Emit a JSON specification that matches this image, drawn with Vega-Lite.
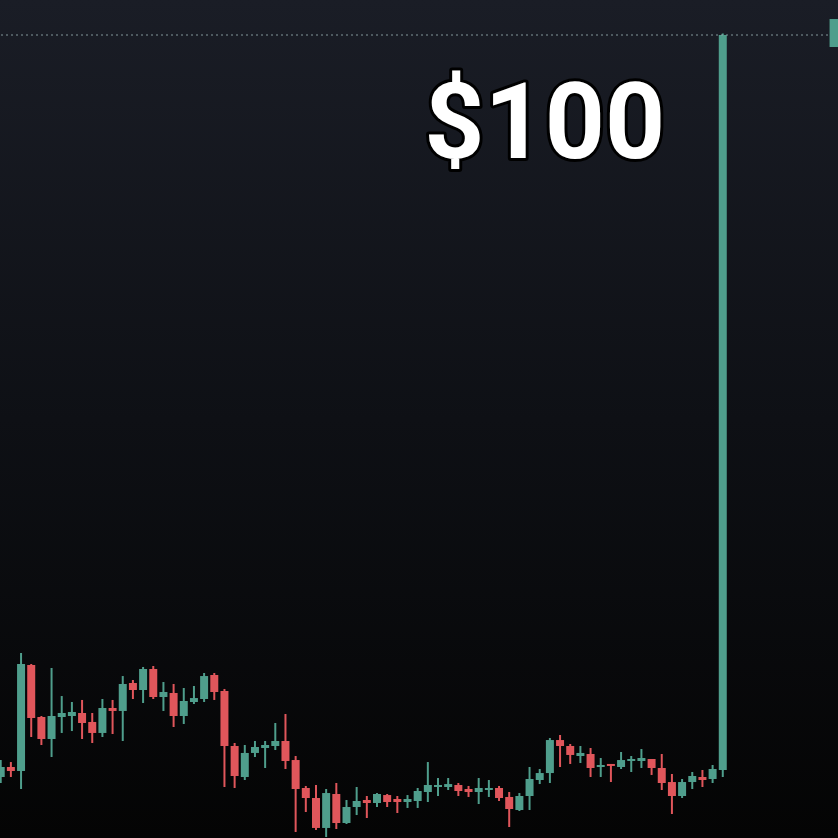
{
  "$schema": "https://vega.github.io/schema/vega-lite/v6.json",
  "width": 838,
  "height": 838,
  "padding": 0,
  "autosize": {"type": "none"},
  "background": "#050506",
  "config": {"view": {"stroke": null}, "axis": {"disable": true}},
  "datasets": {
    "candles": [
      {"i":0,"o":7.60,"h":9.71,"l":6.85,"c":8.84},
      {"i":1,"o":8.84,"h":9.46,"l":7.60,"c":8.34},
      {"i":2,"o":8.34,"h":23.04,"l":6.10,"c":21.67},
      {"i":3,"o":21.54,"h":21.67,"l":12.58,"c":14.94},
      {"i":4,"o":15.07,"h":15.19,"l":11.58,"c":12.33},
      {"i":5,"o":12.33,"h":21.17,"l":10.09,"c":15.19},
      {"i":6,"o":15.07,"h":17.68,"l":13.08,"c":15.57},
      {"i":7,"o":15.19,"h":16.94,"l":13.32,"c":15.69},
      {"i":8,"o":15.57,"h":17.19,"l":12.33,"c":14.32},
      {"i":9,"o":14.45,"h":15.57,"l":11.83,"c":13.08},
      {"i":10,"o":13.08,"h":17.31,"l":12.58,"c":16.19},
      {"i":11,"o":16.19,"h":17.19,"l":12.95,"c":15.82},
      {"i":12,"o":15.82,"h":20.17,"l":12.08,"c":19.18},
      {"i":13,"o":19.30,"h":19.68,"l":17.31,"c":18.43},
      {"i":14,"o":18.43,"h":21.30,"l":16.81,"c":21.05},
      {"i":15,"o":21.05,"h":21.42,"l":17.31,"c":17.56},
      {"i":16,"o":17.56,"h":19.43,"l":15.82,"c":18.18},
      {"i":17,"o":18.06,"h":19.18,"l":13.82,"c":15.19},
      {"i":18,"o":15.19,"h":18.68,"l":14.20,"c":17.06},
      {"i":19,"o":16.94,"h":18.93,"l":16.69,"c":17.43},
      {"i":20,"o":17.31,"h":20.55,"l":16.94,"c":20.17},
      {"i":21,"o":20.30,"h":20.55,"l":17.19,"c":18.18},
      {"i":22,"o":18.31,"h":18.56,"l":6.35,"c":11.46},
      {"i":23,"o":11.46,"h":11.83,"l":6.23,"c":7.72},
      {"i":24,"o":7.60,"h":11.58,"l":7.22,"c":10.59},
      {"i":25,"o":10.59,"h":12.08,"l":10.09,"c":11.33},
      {"i":26,"o":11.21,"h":12.08,"l":8.72,"c":11.58},
      {"i":27,"o":11.46,"h":14.32,"l":10.96,"c":12.08},
      {"i":28,"o":12.08,"h":15.44,"l":8.59,"c":9.59},
      {"i":29,"o":9.71,"h":10.21,"l":0.75,"c":6.10},
      {"i":30,"o":6.23,"h":6.48,"l":3.24,"c":4.98},
      {"i":31,"o":4.98,"h":6.60,"l":1.00,"c":1.25},
      {"i":32,"o":1.25,"h":6.10,"l":0.12,"c":5.60},
      {"i":33,"o":5.48,"h":6.85,"l":1.12,"c":1.87},
      {"i":34,"o":1.87,"h":4.73,"l":1.74,"c":3.86},
      {"i":35,"o":3.86,"h":6.35,"l":2.86,"c":4.61},
      {"i":36,"o":4.73,"h":5.23,"l":2.49,"c":4.36},
      {"i":37,"o":4.36,"h":5.60,"l":3.86,"c":5.48},
      {"i":38,"o":5.35,"h":5.48,"l":3.86,"c":4.48},
      {"i":39,"o":4.86,"h":5.23,"l":3.11,"c":4.48},
      {"i":40,"o":4.48,"h":5.35,"l":3.74,"c":4.86},
      {"i":41,"o":4.61,"h":6.23,"l":3.74,"c":5.85},
      {"i":42,"o":5.73,"h":9.46,"l":4.48,"c":6.60},
      {"i":43,"o":6.35,"h":7.47,"l":5.23,"c":6.60},
      {"i":44,"o":6.35,"h":7.47,"l":5.98,"c":6.72},
      {"i":45,"o":6.60,"h":6.85,"l":5.23,"c":5.85},
      {"i":46,"o":6.10,"h":6.48,"l":5.11,"c":5.73},
      {"i":47,"o":5.73,"h":7.47,"l":4.23,"c":6.23},
      {"i":48,"o":5.98,"h":7.22,"l":5.11,"c":6.23},
      {"i":49,"o":6.23,"h":6.48,"l":4.61,"c":4.98},
      {"i":50,"o":5.11,"h":5.73,"l":1.37,"c":3.61},
      {"i":51,"o":3.49,"h":5.60,"l":3.36,"c":5.23},
      {"i":52,"o":5.23,"h":8.84,"l":3.49,"c":7.35},
      {"i":53,"o":7.22,"h":8.59,"l":6.72,"c":8.09},
      {"i":54,"o":8.09,"h":12.45,"l":6.85,"c":12.20},
      {"i":55,"o":12.20,"h":12.83,"l":8.84,"c":11.46},
      {"i":56,"o":11.46,"h":11.71,"l":9.22,"c":10.34},
      {"i":57,"o":10.21,"h":11.46,"l":9.34,"c":10.59},
      {"i":58,"o":10.46,"h":11.21,"l":7.60,"c":8.72},
      {"i":59,"o":8.84,"h":9.96,"l":7.60,"c":9.09},
      {"i":60,"o":9.22,"h":9.22,"l":6.97,"c":8.97},
      {"i":61,"o":8.84,"h":10.71,"l":8.59,"c":9.71},
      {"i":62,"o":9.59,"h":10.21,"l":8.22,"c":9.84},
      {"i":63,"o":9.59,"h":11.08,"l":8.72,"c":9.96},
      {"i":64,"o":9.84,"h":9.84,"l":7.85,"c":8.72},
      {"i":65,"o":8.72,"h":10.46,"l":5.98,"c":6.85},
      {"i":66,"o":6.97,"h":7.97,"l":2.99,"c":5.23},
      {"i":67,"o":5.23,"h":7.35,"l":4.98,"c":6.97},
      {"i":68,"o":6.97,"h":8.22,"l":6.10,"c":7.72},
      {"i":69,"o":7.60,"h":8.47,"l":6.35,"c":7.22},
      {"i":70,"o":7.35,"h":9.09,"l":6.85,"c":8.59},
      {"i":71,"o":8.47,"h":100.2,"l":7.60,"c":100.0}
    ],
    "tag": [{"x1":81.5,"x2":83,"lo":98.51,"hi":101.99}],
    "label": [{"i":53.5,"p":84.7,"text":"$100"}],
    "bg": [{}]
  },
  "layer": [
    {
      "data": {"name": "bg"},
      "mark": {"type": "rect", "color": {"gradient": "linear", "x1": 0, "y1": 0, "x2": 0, "y2": 1, "stops": [{"offset": 0, "color": "#1a1d26"}, {"offset": 0.5, "color": "#0e1015"}, {"offset": 1, "color": "#040404"}]}},
      "encoding": {}
    },
    {
      "data": {"name": "candles"},
      "mark": {"type": "rule", "strokeWidth": 2, "clip": true},
      "encoding": {
        "x": {"field": "i", "type": "quantitative", "scale": {"domain": [-0.07, 82.33], "nice": false, "zero": false, "padding": 0}},
        "y": {"field": "l", "type": "quantitative", "scale": {"domain": [0, 104.36], "nice": false, "zero": false, "padding": 0}},
        "y2": {"field": "h"},
        "color": {"condition": {"test": "datum.c >= datum.o", "value": "#4f9e8c"}, "value": "#e0565b"}
      }
    },
    {
      "data": {"name": "candles"},
      "mark": {"type": "bar", "width": 8, "clip": true},
      "encoding": {
        "x": {"field": "i", "type": "quantitative"},
        "y": {"field": "o", "type": "quantitative"},
        "y2": {"field": "c"},
        "color": {"condition": {"test": "datum.c >= datum.o", "value": "#4f9e8c"}, "value": "#e0565b"}
      }
    },
    {
      "data": {"values": [{"p": 100}]},
      "mark": {"type": "rule", "stroke": "#8fa5a8", "strokeWidth": 1, "strokeDash": [2, 3], "opacity": 0.9},
      "encoding": {"y": {"field": "p", "type": "quantitative"}}
    },
    {
      "data": {"name": "tag"},
      "mark": {"type": "rect", "color": "#4f9e8c", "clip": true},
      "encoding": {
        "x": {"field": "x1", "type": "quantitative"},
        "x2": {"field": "x2"},
        "y": {"field": "lo", "type": "quantitative"},
        "y2": {"field": "hi"}
      }
    },
    {
      "data": {"name": "label"},
      "mark": {"type": "text", "font": "Roboto", "fontWeight": "bold", "fontSize": 105, "align": "center", "baseline": "alphabetic", "fill": "#000000", "stroke": "#000000", "strokeWidth": 6, "strokeJoin": "round"},
      "encoding": {
        "x": {"field": "i", "type": "quantitative"},
        "y": {"field": "p", "type": "quantitative"},
        "text": {"field": "text"}
      }
    },
    {
      "data": {"name": "label"},
      "mark": {"type": "text", "font": "Roboto", "fontWeight": "bold", "fontSize": 105, "align": "center", "baseline": "alphabetic", "fill": "#ffffff"},
      "encoding": {
        "x": {"field": "i", "type": "quantitative"},
        "y": {"field": "p", "type": "quantitative"},
        "text": {"field": "text"}
      }
    }
  ]
}
